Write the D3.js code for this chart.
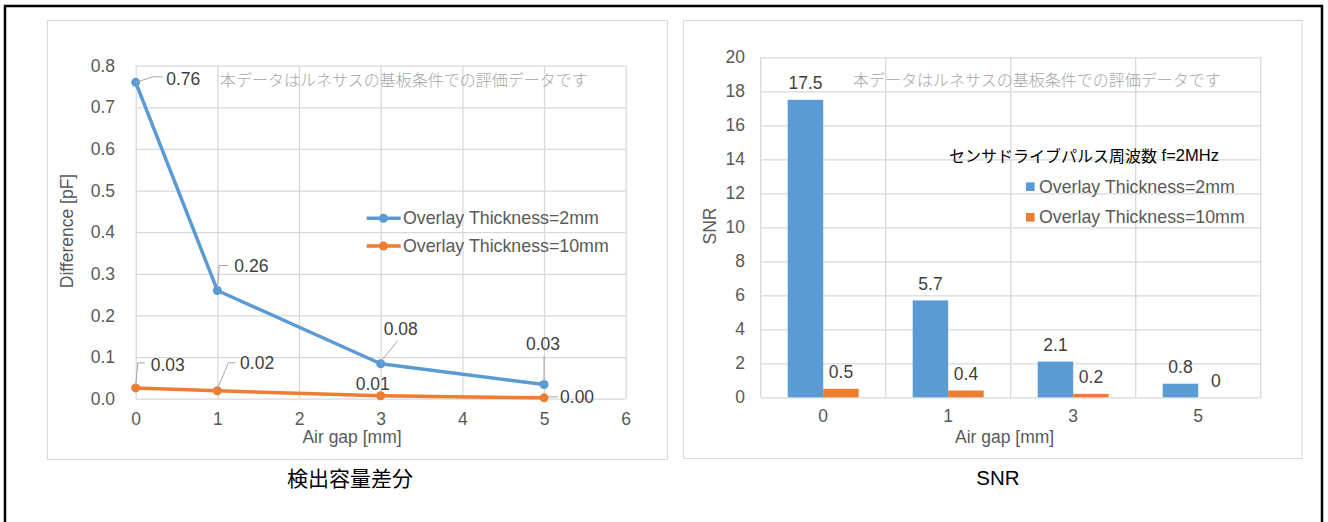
<!DOCTYPE html>
<html><head><meta charset="utf-8">
<script src="https://cdn.jsdelivr.net/npm/d3@7/dist/d3.min.js"></script>
<style>
html,body{margin:0;padding:0;background:#fff;}
svg{display:block;}
text{font-family:"Liberation Sans",Arial,sans-serif;}
.cjk{font-family:"Noto Sans CJK JP","Noto Sans CJK SC",sans-serif;}
</style></head>
<body>
<script>
// ---------- DATA ----------
const seriesNames = ["Overlay Thickness=2mm", "Overlay Thickness=10mm"];
// Left chart: Difference [pF] vs air gap
const airGap = [0, 1, 3, 5];
const diff2mm = [0.76, 0.26, 0.084, 0.034];
const diff10mm = [0.026, 0.019, 0.007, 0.002];
const leftYTicks = [0, 0.1, 0.2, 0.3, 0.4, 0.5, 0.6, 0.7, 0.8];
const leftXTicks = [0, 1, 2, 3, 4, 5, 6];
// Right chart: SNR
const snrCategories = ["0", "1", "3", "5"];
const snr2mm = [17.5, 5.7, 2.1, 0.8];
const snr10mm = [0.5, 0.4, 0.2, 0];
const rightYTicks = [0, 2, 4, 6, 8, 10, 12, 14, 16, 18, 20];
// Texts
const leftTitle = "検出容量差分";
const rightTitle = "SNR";
const leftYLabel = "Difference [pF]";
const rightYLabel = "SNR";
const xLabel = "Air gap [mm]";
const watermark = "本データはルネサスの基板条件での評価データです";
const legendTitleJa = "センサドライブパルス周波数";
const legendTitleEn = " f=2MHz";

// ---------- STYLE ----------
const blue = "#5B9BD5", orange = "#ED7D31", grid = "#D9D9D9", txt = "#595959", lbl = "#404040";
const FS = 17.5;

const svg = d3.select("body").append("svg").attr("width", 1328).attr("height", 522);
svg.append("rect").attr("width", 1328).attr("height", 522).attr("fill", "#fff");
// outer frame
svg.append("path").attr("d", "M5,540V6H1322V540").attr("fill", "none").attr("stroke", "#000").attr("stroke-width", 2.5);
// panels
svg.append("rect").attr("x", 47.5).attr("y", 20.5).attr("width", 620).attr("height", 439).attr("fill", "#fff").attr("stroke", grid).attr("stroke-width", 1);
svg.append("rect").attr("x", 683.5).attr("y", 20.5).attr("width", 618.5).attr("height", 438).attr("fill", "#fff").attr("stroke", grid).attr("stroke-width", 1);

// ================= LEFT CHART =================
const xL = d3.scaleLinear().domain([0, 6]).range([135.7, 625.7]);
const yL = d3.scaleLinear().domain([0, 0.8]).range([398.7, 65.7]);
const gL = svg.append("g");

// gridlines
gL.append("g").attr("transform", `translate(${xL(0)},0)`)
  .call(d3.axisLeft(yL).tickValues(leftYTicks).tickSize(-(xL(6) - xL(0))).tickFormat(""))
  .call(g => { g.select(".domain").remove(); g.selectAll("line").attr("stroke", grid).attr("stroke-width", 1.3); });
gL.append("g").attr("transform", `translate(0,${yL(0)})`)
  .call(d3.axisBottom(xL).tickValues(leftXTicks).tickSize(-(yL(0) - yL(0.8))).tickFormat(""))
  .call(g => { g.select(".domain").remove(); g.selectAll("line").attr("stroke", grid).attr("stroke-width", 1.3); });

// tick labels
gL.append("g").attr("transform", `translate(${xL(0)},0)`)
  .call(d3.axisLeft(yL).tickValues(leftYTicks).tickSize(0).tickPadding(20.7).tickFormat(d3.format(".1f")))
  .call(g => { g.select(".domain").remove(); g.selectAll("text").attr("fill", txt).style("font-size", FS + "px").attr("font-family", "Liberation Sans, Arial, sans-serif"); });
gL.append("g").attr("transform", `translate(0,${yL(0)})`)
  .call(d3.axisBottom(xL).tickValues(leftXTicks).tickSize(0).tickPadding(14).tickFormat(d3.format("d")))
  .call(g => { g.select(".domain").remove(); g.selectAll("text").attr("fill", txt).style("font-size", FS + "px").attr("font-family", "Liberation Sans, Arial, sans-serif"); });

// axis titles
gL.append("text").attr("x", 352).attr("y", 437).attr("text-anchor", "middle").attr("dominant-baseline", "central")
  .attr("fill", txt).style("font-size", FS + "px").text(xLabel);
gL.append("text").attr("transform", "translate(67,231) rotate(-90)").attr("text-anchor", "middle").attr("dominant-baseline", "central")
  .attr("fill", txt).style("font-size", FS + "px").text(leftYLabel);

// watermark
gL.append("text").attr("class", "cjk").attr("x", 220).attr("y", 78.7).attr("dominant-baseline", "central")
  .attr("fill", "#a6a6a6").style("font-size", "16px").style("font-weight", 300).text(watermark);

// lines
const lineGen = d3.line().x((d, i) => xL(airGap[i])).y(d => yL(d));
const leftSeries = [{ vals: diff2mm, color: blue }, { vals: diff10mm, color: orange }];
// label layout (offsets relative to point) and leader lines
const labelLayout = [
  [
    { dx: 30.5, dy: -3.7, anchor: "start", lead: [[0, 0], [17, -5.5], [27, -5.5]] },
    { dx: 17, dy: -24, anchor: "start", lead: [[0, -3], [2, -25], [11, -25]] },
    { dx: 20, dy: -34.4, anchor: "middle", lead: [[0, -2], [17, -23]] },
    { dx: -1, dy: -41, anchor: "middle", lead: [[0, -3], [0, -28]] }
  ],
  [
    { dx: 15, dy: -23.3, anchor: "start", lead: [[0, -2], [2, -25], [9, -25]] },
    { dx: 22.7, dy: -28, anchor: "start", lead: [[0, -2], [11, -28], [18, -28]] },
    { dx: -8, dy: -12, anchor: "middle", lead: null },
    { dx: 16, dy: -1, anchor: "start", lead: [[4, -1], [14, -1]] }
  ]
];
leftSeries.forEach((s, si) => {
  gL.append("path").attr("d", lineGen(s.vals)).attr("fill", "none").attr("stroke", s.color).attr("stroke-width", 3.5).attr("stroke-linejoin", "round");
  gL.selectAll(null).data(s.vals).enter().append("circle")
    .attr("cx", (d, i) => xL(airGap[i])).attr("cy", d => yL(d)).attr("r", 4.5).attr("fill", s.color);
});
leftSeries.forEach((s, si) => {
  s.vals.forEach((v, i) => {
    const px = xL(airGap[i]), py = yL(v), L = labelLayout[si][i];
    if (L.lead) {
      gL.append("path").attr("d", d3.line()(L.lead.map(p => [px + p[0], py + p[1]])))
        .attr("fill", "none").attr("stroke", "#a6a6a6").attr("stroke-width", 1);
    }
    gL.append("text").attr("x", px + L.dx).attr("y", py + L.dy).attr("text-anchor", L.anchor).attr("dominant-baseline", "central")
      .attr("fill", lbl).style("font-size", FS + "px").text(v.toFixed(2));
  });
});

// legend
const legL = gL.append("g");
leftSeries.forEach((s, si) => {
  const y = 218.3 + si * 27.7;
  legL.append("line").attr("x1", 366.7).attr("x2", 400.7).attr("y1", y).attr("y2", y).attr("stroke", s.color).attr("stroke-width", 3.5);
  legL.append("circle").attr("cx", 383.5).attr("cy", y).attr("r", 4.5).attr("fill", s.color);
  legL.append("text").attr("x", 403).attr("y", y).attr("dominant-baseline", "central").attr("fill", txt).style("font-size", "17.8px").text(seriesNames[si]);
});

// title
svg.append("text").attr("class", "cjk").attr("x", 350).attr("y", 477).attr("text-anchor", "middle").attr("dominant-baseline", "central")
  .attr("fill", "#000").style("font-size", "21px").text(leftTitle);

// ================= RIGHT CHART =================
const xR = d3.scaleBand().domain(snrCategories).range([760.7, 1260.7]).paddingInner(0.432).paddingOuter(0.216);
const xSub = d3.scaleBand().domain([0, 1]).range([0, xR.bandwidth()]).padding(0);
const yR = d3.scaleLinear().domain([0, 20]).range([397.3, 57.3]);
const gR = svg.append("g");

gR.append("g").attr("transform", `translate(760.7,0)`)
  .call(d3.axisLeft(yR).tickValues(rightYTicks).tickSize(-500).tickFormat(""))
  .call(g => { g.select(".domain").remove(); g.selectAll("line").attr("stroke", grid).attr("stroke-width", 1.3); });
// vertical gridlines at category boundaries
const bounds = d3.range(snrCategories.length + 1).map(i => xR.range()[0] + i * xR.step());
gR.selectAll(null).data(bounds).enter().append("line")
  .attr("x1", d => d).attr("x2", d => d).attr("y1", yR(0)).attr("y2", yR(20)).attr("stroke", grid).attr("stroke-width", 1.3);

gR.append("g").attr("transform", `translate(760.7,0)`)
  .call(d3.axisLeft(yR).tickValues(rightYTicks).tickSize(0).tickPadding(15.7).tickFormat(d3.format("d")))
  .call(g => { g.select(".domain").remove(); g.selectAll("text").attr("fill", txt).style("font-size", FS + "px").attr("font-family", "Liberation Sans, Arial, sans-serif"); });
gR.append("g").attr("transform", `translate(0,${yR(0)})`)
  .call(d3.axisBottom(xR).tickSize(0).tickPadding(12))
  .call(g => { g.select(".domain").remove(); g.selectAll("text").attr("fill", txt).style("font-size", FS + "px").attr("font-family", "Liberation Sans, Arial, sans-serif"); });

gR.append("text").attr("x", 1004.6).attr("y", 436.7).attr("text-anchor", "middle").attr("dominant-baseline", "central")
  .attr("fill", txt).style("font-size", FS + "px").text(xLabel);
gR.append("text").attr("transform", "translate(710,226) rotate(-90)").attr("text-anchor", "middle").attr("dominant-baseline", "central")
  .attr("fill", txt).style("font-size", FS + "px").text(rightYLabel);

gR.append("text").attr("class", "cjk").attr("x", 853).attr("y", 78.7).attr("dominant-baseline", "central")
  .attr("fill", "#a6a6a6").style("font-size", "16px").style("font-weight", 300).text(watermark);

const rightSeries = [{ vals: snr2mm, color: blue }, { vals: snr10mm, color: orange }];
rightSeries.forEach((s, si) => {
  gR.selectAll(null).data(s.vals).enter().append("rect")
    .attr("x", (d, i) => xR(snrCategories[i]) + xSub(si))
    .attr("y", d => yR(d)).attr("width", xSub.bandwidth()).attr("height", d => yR(0) - yR(d)).attr("fill", s.color);
  gR.selectAll(null).data(s.vals).enter().append("text")
    .attr("x", (d, i) => xR(snrCategories[i]) + xSub(si) + xSub.bandwidth() / 2)
    .attr("y", d => yR(d) - 16.5).attr("text-anchor", "middle").attr("dominant-baseline", "central")
    .attr("fill", lbl).style("font-size", FS + "px").text(d => d3.format("")(d));
});

// legend
const lt = gR.append("text").attr("x", 949).attr("y", 155).attr("dominant-baseline", "central").attr("fill", "#000");
lt.append("tspan").attr("class", "cjk").style("font-size", "16px").style("font-weight", 400).text(legendTitleJa);
lt.append("tspan").style("font-size", "16.5px").text(legendTitleEn);
rightSeries.forEach((s, si) => {
  const y = 186.7 + si * 30.6;
  gR.append("rect").attr("x", 1026).attr("y", y - 4.3).attr("width", 8.6).attr("height", 8.6).attr("fill", s.color);
  gR.append("text").attr("x", 1039).attr("y", y).attr("dominant-baseline", "central").attr("fill", txt).style("font-size", "17.8px").text(seriesNames[si]);
});

svg.append("text").attr("x", 998).attr("y", 477).attr("text-anchor", "middle").attr("dominant-baseline", "central")
  .attr("fill", "#000").style("font-size", "20.5px").text(rightTitle);
</script>
</body></html>
